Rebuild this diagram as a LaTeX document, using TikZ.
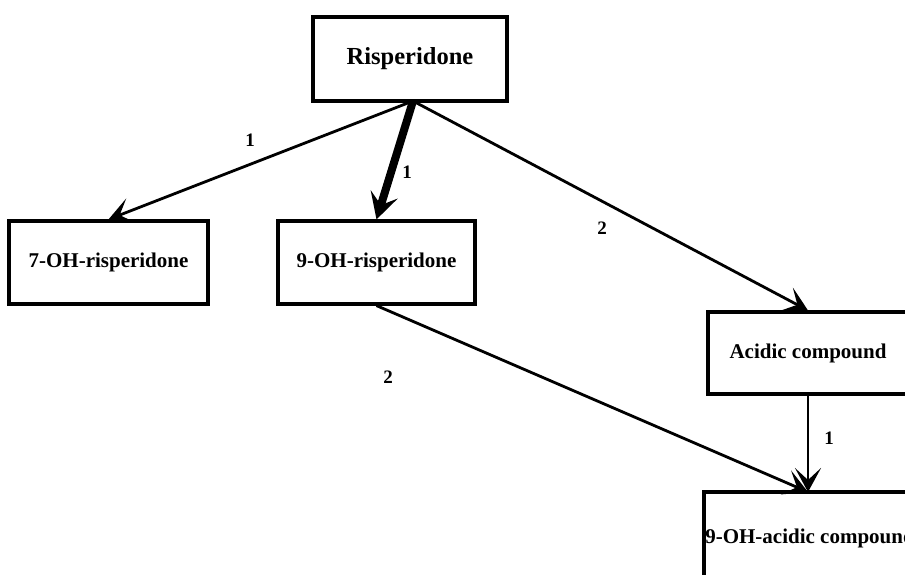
\documentclass[tikz,border=0pt]{standalone}
\usepackage{fontspec}
\setmainfont{Liberation Serif}
\usetikzlibrary{arrows.meta}
\begin{document}
\begin{tikzpicture}[x=1pt,y=-1pt,
  box/.style={draw,line width=3.2pt,minimum width=#1,inner sep=0pt,font=\bfseries\fontsize{21}{24}\selectfont},
  conn/.style={line width=2.8pt,arrows={-Stealth[length=24pt 0 0,width=26pt 0 0,inset=12pt 0 0]}},
  thickconn/.style={line width=8pt,arrows={-Stealth[length=26pt 0 0,width=28pt 0 0,inset=11pt 0 0]}},
  num/.style={font=\bfseries\fontsize{19}{22}\selectfont,inner sep=0pt}]
\useasboundingbox (0,0) rectangle (905,574);
\clip (0,0) rectangle (905,574);
\node[box=194pt,minimum height=84pt,font=\bfseries\fontsize{24.5}{28}\selectfont] (ris) at (410,59) {Risperidone};
\node[box=199pt,minimum height=83pt] (oh7) at (108.5,262.5) {7-OH-risperidone};
\node[box=197pt,minimum height=83pt] (oh9) at (376.5,262.5) {9-OH-risperidone};
\node[box=200pt,minimum height=82pt] (acid) at (808,353) {Acidic compound};
\node[box=212pt,minimum height=92pt] (ohacid) at (810,538) {9-OH-acidic compound};
\coordinate (apex) at (413,101);
\coordinate (hit) at (808,492);
\draw[conn] (apex) -- (oh7.north);
\draw[thickconn] (apex) -- (oh9.north);
\draw[conn] (apex) -- (acid.north);
\draw[conn] (oh9.south) -- (hit);
\draw[conn] (acid.south) -- (hit);
\node[num] (l1) at (250,140) {1};
\node[num] (l2) at (407,172) {1};
\node[num] (l3) at (602,228) {2};
\node[num] (l4) at (388,377) {2};
\node[num] (l5) at (829,438) {1};
\end{tikzpicture}
\end{document}
